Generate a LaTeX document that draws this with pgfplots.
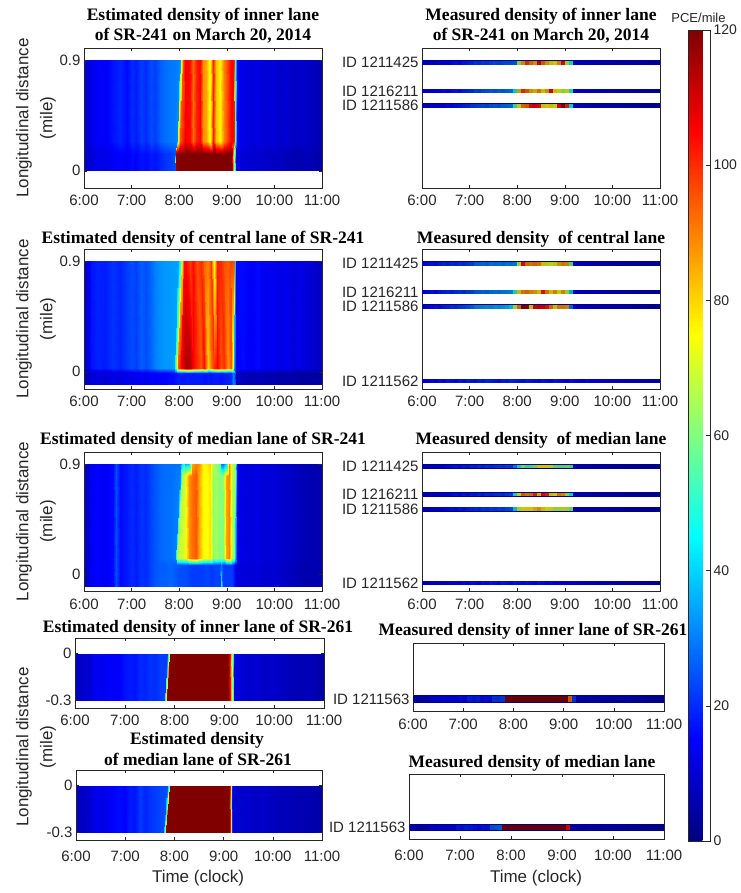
\documentclass[border=0pt]{standalone}
\usepackage{fontspec}
\setmainfont{Liberation Sans}
\newfontfamily\tnr{Liberation Serif}
\usepackage{pgfplots}
\usepackage{pgfplotstable}
\pgfplotsset{compat=1.18}
\definecolor{navyc}{rgb}{0,0,0.55}
\definecolor{axc}{rgb}{0.15,0.15,0.15}
\newcommand\tickf{\fontsize{15}{17}\selectfont}
\newcommand\titf{\tnr\bfseries\fontsize{17.5}{20}\selectfont}
\newcommand\labf{\fontsize{17}{20}\selectfont}
\pgfplotsset{
 base/.style={scale only axis, axis on top, xmin=6, xmax=11,
   xtick={6,7,8,9,10,11}, xticklabels={6:00,7:00,8:00,9:00,10:00,11:00},
   tick align=inside, xtick pos=both, ytick pos=both, major tick length=3pt,
   every tick/.style={axc, line width=0.5pt},
   axis line style={axc, line width=0.6pt},
   tick label style={font=\tickf, text=axc},
   colormap/jet, point meta min=0, point meta max=120},
 top3/.style={base, ymin=-0.14, ymax=1.0, width=238pt, xticklabel style={yshift=-4pt}},
 bot2/.style={base, ymin=-0.35, ymax=0.1},
 est/.style={ytick={0,0.9}, yticklabels={0,0.9}},
 estb/.style={ytick={-0.3,0}, yticklabels={-0.3,0}},
}
\newcommand\strip[6]{%
  \addplot[draw=navyc, line width=#4, forget plot] coordinates {(6,#3) (11,#3)};
  \addplot[scatter, only marks, mark=|, mark size=#5, mark options={line width=#6}, point meta=explicit] table[x=t, y expr=#3, meta=#2] {#1};
}
% ---------------- estimated densities ----------------
\pgfplotstableread[row sep=\\]{
x y c\\
6.00 0 9\\ 6.15 0 10\\ 6.30 0 13\\ 6.45 0 12\\ 6.60 0 14\\ 6.75 0 15\\ 6.90 0 14\\ 7.00 0 16\\ 7.10 0 15\\ 7.20 0 17\\
7.30 0 16\\ 7.40 0 18\\ 7.50 0 17\\ 7.60 0 19\\ 7.70 0 21\\ 7.80 0 22\\ 7.90 0 23\\ 7.92 0 24\\ 7.94 0 118\\ 8.00 0 120\\
8.12 0 120\\ 8.22 0 120\\ 8.29 0 120\\ 8.36 0 120\\ 8.43 0 120\\ 8.50 0 120\\ 8.57 0 120\\ 8.64 0 120\\ 8.71 0 120\\ 8.78 0 120\\
8.85 0 120\\ 8.94 0 120\\ 9.00 0 120\\ 9.06 0 120\\ 9.10 0 118\\ 9.14 0 90\\ 9.17 0 45\\ 9.20 0 12\\ 9.35 0 10\\ 9.50 0 10\\
9.65 0 9\\ 9.80 0 9\\ 9.95 0 8\\ 10.10 0 8\\ 10.25 0 7\\ 10.40 0 6\\ 10.55 0 6\\ 10.70 0 7\\ 10.85 0 5\\ 11.00 0 5\\
6.00 0.14 9\\ 6.15 0.14 10\\ 6.30 0.14 13\\ 6.45 0.14 12\\ 6.60 0.14 14\\ 6.75 0.14 15\\ 6.90 0.14 14\\ 7.00 0.14 16\\ 7.10 0.14 15\\ 7.20 0.14 17\\
7.30 0.14 16\\ 7.40 0.14 18\\ 7.50 0.14 17\\ 7.60 0.14 19\\ 7.70 0.14 21\\ 7.80 0.14 22\\ 7.90 0.14 23\\ 7.92 0.14 24\\ 7.94 0.14 118\\ 8.00 0.14 120\\
8.12 0.14 120\\ 8.22 0.14 120\\ 8.29 0.14 120\\ 8.36 0.14 120\\ 8.43 0.14 120\\ 8.50 0.14 120\\ 8.57 0.14 120\\ 8.64 0.14 120\\ 8.71 0.14 120\\ 8.78 0.14 120\\
8.85 0.14 120\\ 8.94 0.14 120\\ 9.00 0.14 120\\ 9.06 0.14 120\\ 9.10 0.14 118\\ 9.14 0.14 90\\ 9.17 0.14 45\\ 9.20 0.14 12\\ 9.35 0.14 10\\ 9.50 0.14 10\\
9.65 0.14 9\\ 9.80 0.14 9\\ 9.95 0.14 8\\ 10.10 0.14 8\\ 10.25 0.14 7\\ 10.40 0.14 6\\ 10.55 0.14 6\\ 10.70 0.14 7\\ 10.85 0.14 5\\ 11.00 0.14 5\\
6.00 0.24 10\\ 6.15 0.24 12\\ 6.30 0.24 15\\ 6.45 0.24 14\\ 6.60 0.24 17\\ 6.75 0.24 19\\ 6.90 0.24 16\\ 7.00 0.24 20\\ 7.10 0.24 18\\ 7.20 0.24 22\\
7.30 0.24 20\\ 7.40 0.24 24\\ 7.50 0.24 22\\ 7.60 0.24 26\\ 7.70 0.24 28\\ 7.80 0.24 29\\ 7.93 0.24 30\\ 7.96 0.24 32\\ 7.98 0.24 70\\ 8.02 0.24 95\\
8.12 0.24 106\\ 8.22 0.24 104\\ 8.29 0.24 92\\ 8.36 0.24 101\\ 8.43 0.24 105\\ 8.50 0.24 88\\ 8.57 0.24 86\\ 8.64 0.24 72\\ 8.71 0.24 102\\ 8.78 0.24 82\\
8.85 0.24 76\\ 8.94 0.24 90\\ 9.00 0.24 96\\ 9.06 0.24 103\\ 9.10 0.24 106\\ 9.15 0.24 102\\ 9.18 0.24 55\\ 9.21 0.24 14\\ 9.35 0.24 12\\ 9.50 0.24 11\\
9.65 0.24 12\\ 9.80 0.24 10\\ 9.95 0.24 11\\ 10.10 0.24 9\\ 10.25 0.24 10\\ 10.40 0.24 8\\ 10.55 0.24 9\\ 10.70 0.24 8\\ 10.85 0.24 7\\ 11.00 0.24 6\\
6.00 0.9 10\\ 6.15 0.9 12\\ 6.30 0.9 15\\ 6.45 0.9 14\\ 6.60 0.9 17\\ 6.75 0.9 19\\ 6.90 0.9 16\\ 7.00 0.9 20\\ 7.10 0.9 18\\ 7.20 0.9 22\\
7.30 0.9 20\\ 7.40 0.9 24\\ 7.50 0.9 22\\ 7.60 0.9 26\\ 7.70 0.9 28\\ 7.80 0.9 29\\ 7.97 0.9 30\\ 8.01 0.9 32\\ 8.03 0.9 70\\ 8.07 0.9 95\\
8.12 0.9 106\\ 8.22 0.9 104\\ 8.29 0.9 92\\ 8.36 0.9 101\\ 8.43 0.9 105\\ 8.50 0.9 88\\ 8.57 0.9 86\\ 8.64 0.9 72\\ 8.71 0.9 102\\ 8.78 0.9 82\\
8.85 0.9 76\\ 8.94 0.9 90\\ 9.00 0.9 96\\ 9.06 0.9 103\\ 9.10 0.9 106\\ 9.15 0.9 102\\ 9.18 0.9 55\\ 9.21 0.9 14\\ 9.35 0.9 12\\ 9.50 0.9 11\\
9.65 0.9 12\\ 9.80 0.9 10\\ 9.95 0.9 11\\ 10.10 0.9 9\\ 10.25 0.9 10\\ 10.40 0.9 8\\ 10.55 0.9 9\\ 10.70 0.9 8\\ 10.85 0.9 7\\ 11.00 0.9 6\\
}\EA
\pgfplotstableread[row sep=\\]{
x y c\\
6.00 -0.1 7\\ 6.08 -0.1 8\\ 6.15 -0.1 10\\ 6.30 -0.1 11\\ 6.45 -0.1 10\\ 6.60 -0.1 12\\ 6.75 -0.1 11\\ 6.90 -0.1 13\\ 7.00 -0.1 12\\ 7.10 -0.1 13\\
7.20 -0.1 14\\ 7.30 -0.1 13\\ 7.40 -0.1 15\\ 7.50 -0.1 14\\ 7.60 -0.1 15\\ 7.70 -0.1 15\\ 7.80 -0.1 16\\ 7.88 -0.1 16\\ 7.92 -0.1 17\\ 7.96 -0.1 18\\
8.02 -0.1 18\\ 8.15 -0.1 18\\ 8.22 -0.1 18\\ 8.30 -0.1 18\\ 8.38 -0.1 18\\ 8.45 -0.1 18\\ 8.52 -0.1 17\\ 8.60 -0.1 18\\ 8.67 -0.1 17\\ 8.73 -0.1 18\\
8.80 -0.1 18\\ 8.87 -0.1 17\\ 8.95 -0.1 18\\ 9.02 -0.1 19\\ 9.08 -0.1 20\\ 9.12 -0.1 30\\ 9.17 -0.1 25\\ 9.20 -0.1 8\\ 9.35 -0.1 7\\ 9.50 -0.1 6\\
9.65 -0.1 7\\ 9.80 -0.1 6\\ 9.95 -0.1 6\\ 10.10 -0.1 5\\ 10.25 -0.1 5\\ 10.40 -0.1 5\\ 10.55 -0.1 4\\ 10.70 -0.1 4\\ 10.85 -0.1 4\\ 11.00 -0.1 4\\
6.00 -0.01 7\\ 6.08 -0.01 8\\ 6.15 -0.01 10\\ 6.30 -0.01 11\\ 6.45 -0.01 10\\ 6.60 -0.01 12\\ 6.75 -0.01 11\\ 6.90 -0.01 13\\ 7.00 -0.01 12\\ 7.10 -0.01 13\\
7.20 -0.01 14\\ 7.30 -0.01 13\\ 7.40 -0.01 15\\ 7.50 -0.01 14\\ 7.60 -0.01 15\\ 7.70 -0.01 15\\ 7.80 -0.01 16\\ 7.88 -0.01 16\\ 7.92 -0.01 17\\ 7.96 -0.01 18\\
8.02 -0.01 18\\ 8.15 -0.01 18\\ 8.22 -0.01 18\\ 8.30 -0.01 18\\ 8.38 -0.01 18\\ 8.45 -0.01 18\\ 8.52 -0.01 17\\ 8.60 -0.01 18\\ 8.67 -0.01 17\\ 8.73 -0.01 18\\
8.80 -0.01 18\\ 8.87 -0.01 17\\ 8.95 -0.01 18\\ 9.02 -0.01 19\\ 9.08 -0.01 20\\ 9.12 -0.01 30\\ 9.17 -0.01 25\\ 9.20 -0.01 8\\ 9.35 -0.01 7\\ 9.50 -0.01 6\\
9.65 -0.01 7\\ 9.80 -0.01 6\\ 9.95 -0.01 6\\ 10.10 -0.01 5\\ 10.25 -0.01 5\\ 10.40 -0.01 5\\ 10.55 -0.01 4\\ 10.70 -0.01 4\\ 10.85 -0.01 4\\ 11.00 -0.01 4\\
6.00 0.03 10\\ 6.08 0.03 12\\ 6.15 0.03 17\\ 6.30 0.03 19\\ 6.45 0.03 18\\ 6.60 0.03 21\\ 6.75 0.03 19\\ 6.90 0.03 22\\ 7.00 0.03 24\\ 7.10 0.03 22\\
7.20 0.03 26\\ 7.30 0.03 24\\ 7.40 0.03 27\\ 7.50 0.03 30\\ 7.60 0.03 32\\ 7.70 0.03 33\\ 7.80 0.03 33\\ 7.90 0.03 34\\ 7.93 0.03 60\\ 7.97 0.03 95\\
8.04 0.03 106\\ 8.15 0.03 116\\ 8.22 0.03 114\\ 8.30 0.03 105\\ 8.38 0.03 100\\ 8.45 0.03 95\\ 8.52 0.03 104\\ 8.60 0.03 80\\ 8.67 0.03 92\\ 8.73 0.03 100\\
8.80 0.03 105\\ 8.87 0.03 96\\ 8.95 0.03 100\\ 9.02 0.03 88\\ 9.08 0.03 95\\ 9.12 0.03 70\\ 9.15 0.03 35\\ 9.20 0.03 14\\ 9.35 0.03 16\\ 9.50 0.03 14\\
9.65 0.03 16\\ 9.80 0.03 13\\ 9.95 0.03 14\\ 10.10 0.03 12\\ 10.25 0.03 13\\ 10.40 0.03 11\\ 10.55 0.03 12\\ 10.70 0.03 10\\ 10.85 0.03 9\\ 11.00 0.03 8\\
6.00 0.9 10\\ 6.08 0.9 12\\ 6.15 0.9 17\\ 6.30 0.9 19\\ 6.45 0.9 18\\ 6.60 0.9 21\\ 6.75 0.9 19\\ 6.90 0.9 22\\ 7.00 0.9 24\\ 7.10 0.9 22\\
7.20 0.9 26\\ 7.30 0.9 24\\ 7.40 0.9 27\\ 7.50 0.9 30\\ 7.60 0.9 32\\ 7.70 0.9 33\\ 7.80 0.9 33\\ 7.98 0.9 34\\ 8.02 0.9 50\\ 8.05 0.9 80\\
8.10 0.9 104\\ 8.15 0.9 104\\ 8.22 0.9 98\\ 8.30 0.9 104\\ 8.38 0.9 96\\ 8.45 0.9 100\\ 8.52 0.9 94\\ 8.60 0.9 90\\ 8.67 0.9 98\\ 8.73 0.9 72\\
8.80 0.9 102\\ 8.87 0.9 100\\ 8.95 0.9 96\\ 9.02 0.9 94\\ 9.08 0.9 98\\ 9.15 0.9 96\\ 9.18 0.9 40\\ 9.20 0.9 16\\ 9.35 0.9 16\\ 9.50 0.9 14\\
9.65 0.9 16\\ 9.80 0.9 13\\ 9.95 0.9 14\\ 10.10 0.9 12\\ 10.25 0.9 13\\ 10.40 0.9 11\\ 10.55 0.9 12\\ 10.70 0.9 10\\ 10.85 0.9 9\\ 11.00 0.9 8\\
}\EB
\pgfplotstableread[row sep=\\]{
x y c\\
6.00 -0.1 8\\ 6.08 -0.1 10\\ 6.15 -0.1 14\\ 6.30 -0.1 15\\ 6.45 -0.1 14\\ 6.60 -0.1 16\\ 6.68 -0.1 24\\ 6.75 -0.1 16\\ 6.90 -0.1 18\\ 7.00 -0.1 20\\
7.10 -0.1 18\\ 7.20 -0.1 21\\ 7.30 -0.1 20\\ 7.40 -0.1 23\\ 7.50 -0.1 25\\ 7.60 -0.1 26\\ 7.70 -0.1 26\\ 7.80 -0.1 27\\ 7.90 -0.1 26\\ 7.95 -0.1 25\\
8.00 -0.1 24\\ 8.12 -0.1 24\\ 8.20 -0.1 23\\ 8.27 -0.1 22\\ 8.35 -0.1 22\\ 8.42 -0.1 22\\ 8.50 -0.1 22\\ 8.57 -0.1 23\\ 8.64 -0.1 22\\ 8.70 -0.1 22\\
8.78 -0.1 23\\ 8.85 -0.1 22\\ 8.88 -0.1 45\\ 8.92 -0.1 22\\ 8.98 -0.1 22\\ 9.04 -0.1 22\\ 9.10 -0.1 22\\ 9.14 -0.1 20\\ 9.18 -0.1 15\\ 9.21 -0.1 11\\
9.35 -0.1 11\\ 9.50 -0.1 10\\ 9.65 -0.1 11\\ 9.80 -0.1 9\\ 9.95 -0.1 10\\ 10.10 -0.1 9\\ 10.25 -0.1 8\\ 10.40 -0.1 7\\ 10.55 -0.1 6\\ 10.70 -0.1 5\\
10.85 -0.1 6\\ 11.00 -0.1 5\\
6.00 0.07 8\\ 6.08 0.07 10\\ 6.15 0.07 14\\ 6.30 0.07 15\\ 6.45 0.07 14\\ 6.60 0.07 16\\ 6.68 0.07 24\\ 6.75 0.07 16\\ 6.90 0.07 18\\ 7.00 0.07 20\\
7.10 0.07 18\\ 7.20 0.07 21\\ 7.30 0.07 20\\ 7.40 0.07 23\\ 7.50 0.07 25\\ 7.60 0.07 26\\ 7.70 0.07 26\\ 7.80 0.07 27\\ 7.90 0.07 26\\ 7.95 0.07 25\\
8.00 0.07 24\\ 8.12 0.07 24\\ 8.20 0.07 23\\ 8.27 0.07 22\\ 8.35 0.07 22\\ 8.42 0.07 22\\ 8.50 0.07 22\\ 8.57 0.07 23\\ 8.64 0.07 22\\ 8.70 0.07 22\\
8.78 0.07 23\\ 8.85 0.07 22\\ 8.88 0.07 30\\ 8.92 0.07 22\\ 8.98 0.07 22\\ 9.04 0.07 22\\ 9.10 0.07 22\\ 9.14 0.07 20\\ 9.18 0.07 15\\ 9.21 0.07 11\\
9.35 0.07 11\\ 9.50 0.07 10\\ 9.65 0.07 11\\ 9.80 0.07 9\\ 9.95 0.07 10\\ 10.10 0.07 9\\ 10.25 0.07 8\\ 10.40 0.07 7\\ 10.55 0.07 6\\ 10.70 0.07 5\\
10.85 0.07 6\\ 11.00 0.07 5\\
6.00 0.13 8\\ 6.08 0.13 10\\ 6.15 0.13 14\\ 6.30 0.13 15\\ 6.45 0.13 14\\ 6.60 0.13 16\\ 6.68 0.13 24\\ 6.75 0.13 16\\ 6.90 0.13 18\\ 7.00 0.13 20\\
7.10 0.13 18\\ 7.20 0.13 21\\ 7.30 0.13 20\\ 7.40 0.13 23\\ 7.50 0.13 25\\ 7.60 0.13 27\\ 7.70 0.13 28\\ 7.80 0.13 28\\ 7.92 0.13 30\\ 7.95 0.13 65\\
8.00 0.13 68\\ 8.12 0.13 72\\ 8.20 0.13 88\\ 8.27 0.13 92\\ 8.35 0.13 95\\ 8.42 0.13 85\\ 8.50 0.13 76\\ 8.57 0.13 74\\ 8.64 0.13 78\\ 8.70 0.13 62\\
8.78 0.13 64\\ 8.85 0.13 60\\ 8.88 0.13 62\\ 8.92 0.13 60\\ 8.98 0.13 85\\ 9.04 0.13 90\\ 9.10 0.13 66\\ 9.15 0.13 62\\ 9.18 0.13 40\\ 9.21 0.13 12\\
9.35 0.13 12\\ 9.50 0.13 11\\ 9.65 0.13 12\\ 9.80 0.13 10\\ 9.95 0.13 11\\ 10.10 0.13 9\\ 10.25 0.13 9\\ 10.40 0.13 8\\ 10.55 0.13 7\\ 10.70 0.13 6\\
10.85 0.13 6\\ 11.00 0.13 5\\
6.00 0.8 8\\ 6.08 0.8 10\\ 6.15 0.8 14\\ 6.30 0.8 15\\ 6.45 0.8 14\\ 6.60 0.8 16\\ 6.68 0.8 24\\ 6.75 0.8 16\\ 6.90 0.8 18\\ 7.00 0.8 20\\
7.10 0.8 18\\ 7.20 0.8 21\\ 7.30 0.8 20\\ 7.40 0.8 23\\ 7.50 0.8 25\\ 7.60 0.8 27\\ 7.70 0.8 28\\ 7.80 0.8 28\\ 8.02 0.8 30\\ 8.05 0.8 65\\
8.10 0.8 68\\ 8.12 0.8 72\\ 8.20 0.8 88\\ 8.27 0.8 92\\ 8.35 0.8 95\\ 8.42 0.8 85\\ 8.50 0.8 76\\ 8.57 0.8 74\\ 8.64 0.8 78\\ 8.70 0.8 62\\
8.78 0.8 64\\ 8.85 0.8 60\\ 8.88 0.8 62\\ 8.92 0.8 60\\ 8.98 0.8 85\\ 9.04 0.8 90\\ 9.10 0.8 66\\ 9.17 0.8 62\\ 9.19 0.8 40\\ 9.21 0.8 12\\
9.35 0.8 12\\ 9.50 0.8 11\\ 9.65 0.8 12\\ 9.80 0.8 10\\ 9.95 0.8 11\\ 10.10 0.8 9\\ 10.25 0.8 9\\ 10.40 0.8 8\\ 10.55 0.8 7\\ 10.70 0.8 6\\
10.85 0.8 6\\ 11.00 0.8 5\\
6.00 0.9 8\\ 6.08 0.9 10\\ 6.15 0.9 14\\ 6.30 0.9 15\\ 6.45 0.9 14\\ 6.60 0.9 16\\ 6.68 0.9 24\\ 6.75 0.9 16\\ 6.90 0.9 18\\ 7.00 0.9 20\\
7.10 0.9 18\\ 7.20 0.9 21\\ 7.30 0.9 20\\ 7.40 0.9 23\\ 7.50 0.9 25\\ 7.60 0.9 27\\ 7.70 0.9 28\\ 7.80 0.9 28\\ 8.02 0.9 28\\ 8.05 0.9 42\\
8.10 0.9 50\\ 8.12 0.9 35\\ 8.20 0.9 40\\ 8.27 0.9 85\\ 8.35 0.9 90\\ 8.42 0.9 88\\ 8.50 0.9 76\\ 8.57 0.9 76\\ 8.64 0.9 80\\ 8.70 0.9 66\\
8.78 0.9 62\\ 8.85 0.9 55\\ 8.88 0.9 30\\ 8.92 0.9 28\\ 8.98 0.9 40\\ 9.04 0.9 88\\ 9.10 0.9 68\\ 9.17 0.9 62\\ 9.19 0.9 40\\ 9.21 0.9 12\\
9.35 0.9 12\\ 9.50 0.9 11\\ 9.65 0.9 12\\ 9.80 0.9 10\\ 9.95 0.9 11\\ 10.10 0.9 9\\ 10.25 0.9 9\\ 10.40 0.9 8\\ 10.55 0.9 7\\ 10.70 0.9 6\\
10.85 0.9 6\\ 11.00 0.9 5\\
}\EC
\pgfplotstableread[row sep=\\]{
x y c\\
6.00 -0.3 8\\ 6.15 -0.3 9\\ 6.30 -0.3 10\\ 6.40 -0.3 14\\ 6.55 -0.3 13\\ 6.70 -0.3 15\\ 6.85 -0.3 14\\ 7.00 -0.3 17\\ 7.10 -0.3 18\\ 7.20 -0.3 17\\
7.30 -0.3 20\\ 7.40 -0.3 19\\ 7.50 -0.3 21\\ 7.60 -0.3 20\\ 7.70 -0.3 22\\ 7.78 -0.3 22\\ 7.82 -0.3 70\\ 7.84 -0.3 120\\ 9.08 -0.3 120\\ 9.11 -0.3 105\\
9.14 -0.3 85\\ 9.17 -0.3 50\\ 9.20 -0.3 12\\ 9.35 -0.3 10\\ 9.50 -0.3 9\\ 9.65 -0.3 10\\ 9.80 -0.3 8\\ 9.95 -0.3 9\\ 10.10 -0.3 8\\ 10.30 -0.3 7\\
10.50 -0.3 6\\ 10.70 -0.3 7\\ 10.85 -0.3 5\\ 11.00 -0.3 5\\
6.00 0 8\\ 6.15 0 9\\ 6.30 0 10\\ 6.40 0 14\\ 6.55 0 13\\ 6.70 0 15\\ 6.85 0 14\\ 7.00 0 17\\ 7.10 0 18\\ 7.20 0 17\\
7.30 0 20\\ 7.40 0 19\\ 7.50 0 21\\ 7.60 0 20\\ 7.70 0 22\\ 7.85 0 22\\ 7.89 0 70\\ 7.91 0 120\\ 9.08 0 120\\ 9.11 0 105\\
9.14 0 85\\ 9.17 0 50\\ 9.20 0 12\\ 9.35 0 10\\ 9.50 0 9\\ 9.65 0 10\\ 9.80 0 8\\ 9.95 0 9\\ 10.10 0 8\\ 10.30 0 7\\
10.50 0 6\\ 10.70 0 7\\ 10.85 0 5\\ 11.00 0 5\\
}\ED
\pgfplotstableread[row sep=\\]{
x y c\\
6.00 -0.3 8\\ 6.15 -0.3 8\\ 6.30 -0.3 10\\ 6.40 -0.3 13\\ 6.55 -0.3 12\\ 6.70 -0.3 14\\ 6.85 -0.3 16\\ 7.00 -0.3 15\\ 7.10 -0.3 18\\ 7.20 -0.3 17\\
7.30 -0.3 22\\ 7.40 -0.3 19\\ 7.50 -0.3 21\\ 7.60 -0.3 22\\ 7.70 -0.3 23\\ 7.77 -0.3 24\\ 7.81 -0.3 60\\ 7.83 -0.3 120\\ 9.11 -0.3 120\\ 9.13 -0.3 105\\
9.15 -0.3 75\\ 9.17 -0.3 20\\ 9.20 -0.3 10\\ 9.35 -0.3 9\\ 9.50 -0.3 9\\ 9.65 -0.3 8\\ 9.80 -0.3 9\\ 9.95 -0.3 8\\ 10.10 -0.3 7\\ 10.30 -0.3 7\\
10.50 -0.3 6\\ 10.70 -0.3 6\\ 10.85 -0.3 5\\ 11.00 -0.3 5\\
6.00 0 8\\ 6.15 0 8\\ 6.30 0 10\\ 6.40 0 13\\ 6.55 0 12\\ 6.70 0 14\\ 6.85 0 16\\ 7.00 0 15\\ 7.10 0 18\\ 7.20 0 17\\
7.30 0 22\\ 7.40 0 19\\ 7.50 0 21\\ 7.60 0 22\\ 7.70 0 23\\ 7.85 0 24\\ 7.89 0 60\\ 7.91 0 120\\ 9.11 0 120\\ 9.13 0 105\\
9.15 0 75\\ 9.17 0 20\\ 9.20 0 10\\ 9.35 0 9\\ 9.50 0 9\\ 9.65 0 8\\ 9.80 0 9\\ 9.95 0 8\\ 10.10 0 7\\ 10.30 0 7\\
10.50 0 6\\ 10.70 0 6\\ 10.85 0 5\\ 11.00 0 5\\
}\EE
% ---------------- measured densities (5-min bins) ----------------
\pgfplotstableread[row sep=\\]{
t a b c\\
6.042 12 12 11\\ 6.125 12 13 12\\ 6.208 11 12 12\\ 6.292 13 14 13\\ 6.375 14 15 14\\ 6.458 15 16 15\\
6.542 15 15 16\\ 6.625 16 17 16\\ 6.708 17 18 17\\ 6.792 16 17 18\\ 6.875 18 19 19\\ 6.958 19 20 20\\
7.042 20 21 22\\ 7.125 22 24 23\\ 7.208 21 23 24\\ 7.292 23 25 25\\ 7.375 22 26 24\\ 7.458 24 27 26\\
7.542 25 26 27\\ 7.625 24 28 26\\ 7.708 25 27 28\\ 7.792 26 29 29\\ 7.875 26 30 30\\ 7.958 27 45 52\\
8.042 65 82 76\\ 8.125 85 98 90\\ 8.208 98 92 92\\ 8.292 90 84 104\\ 8.375 84 80 106\\ 8.458 108 88 103\\
8.542 92 78 78\\ 8.625 84 84 76\\ 8.708 78 105 78\\ 8.792 76 78 74\\ 8.875 86 74 104\\ 8.958 104 66 118\\
9.042 68 72 100\\ 9.125 50 50 45\\ 9.208 12 13 12\\ 9.292 11 12 12\\ 9.375 12 12 11\\ 9.458 10 11 11\\
9.542 11 12 10\\ 9.625 10 10 11\\ 9.708 11 11 10\\ 9.792 10 10 10\\ 9.875 9 10 9\\ 9.958 10 9 10\\
10.042 9 10 9\\ 10.125 9 9 8\\ 10.208 8 8 9\\ 10.292 9 9 8\\ 10.375 8 8 8\\ 10.458 8 7 7\\
10.542 7 8 8\\ 10.625 8 7 7\\ 10.708 7 7 6\\ 10.792 7 6 7\\ 10.875 6 7 6\\ 10.958 7 6 6\\
}\MA
\pgfplotstableread[row sep=\\]{
t a b c d\\
6.042 16 15 14 14\\ 6.125 17 16 16 15\\ 6.208 18 17 17 16\\ 6.292 17 16 18 15\\ 6.375 19 18 17 17\\ 6.458 20 19 19 16\\
6.542 19 20 20 18\\ 6.625 21 19 22 17\\ 6.708 20 21 21 16\\ 6.792 22 22 23 18\\ 6.875 21 21 24 17\\ 6.958 23 23 26 19\\
7.042 24 24 28 18\\ 7.125 28 27 32 17\\ 7.208 29 28 33 19\\ 7.292 30 29 34 18\\ 7.375 29 28 35 20\\ 7.458 31 30 34 19\\
7.542 30 31 36 18\\ 7.625 31 30 35 17\\ 7.708 30 31 36 19\\ 7.792 32 32 38 18\\ 7.875 31 33 42 20\\ 7.958 32 50 70 19\\
8.042 70 78 90 18\\ 8.125 104 88 118 17\\ 8.208 90 90 116 19\\ 8.292 88 86 78 18\\ 8.375 90 84 106 17\\ 8.458 88 78 108 16\\
8.542 78 102 106 18\\ 8.625 70 88 102 17\\ 8.708 74 78 90 16\\ 8.792 70 86 78 18\\ 8.875 84 76 88 17\\ 8.958 88 86 88 16\\
9.042 86 66 86 15\\ 9.125 58 40 30 17\\ 9.208 12 12 13 16\\ 9.292 11 12 12 15\\ 9.375 11 11 12 14\\ 9.458 10 11 11 16\\
9.542 11 10 11 15\\ 9.625 10 10 10 14\\ 9.708 10 11 10 13\\ 9.792 9 10 9 14\\ 9.875 10 9 10 12\\ 9.958 9 9 9 13\\
10.042 9 10 9 12\\ 10.125 8 9 8 11\\ 10.208 9 8 8 12\\ 10.292 8 8 9 11\\ 10.375 8 9 8 10\\ 10.458 7 8 7 11\\
10.542 8 7 7 10\\ 10.625 7 7 8 9\\ 10.708 7 8 7 10\\ 10.792 6 7 6 9\\ 10.875 7 6 6 8\\ 10.958 6 6 6 9\\
}\MB
\pgfplotstableread[row sep=\\]{
t a b c d\\
6.042 11 10 10 10\\ 6.125 12 11 11 11\\ 6.208 12 12 12 12\\ 6.292 13 12 13 11\\ 6.375 12 13 14 13\\ 6.458 14 14 15 12\\
6.542 16 15 16 14\\ 6.625 17 16 17 13\\ 6.708 18 17 16 15\\ 6.792 17 16 18 14\\ 6.875 19 18 17 16\\ 6.958 18 17 19 15\\
7.042 20 19 20 17\\ 7.125 19 18 21 16\\ 7.208 21 20 20 15\\ 7.292 20 19 22 17\\ 7.375 22 21 21 16\\ 7.458 21 20 23 18\\
7.542 22 21 22 17\\ 7.625 23 22 24 16\\ 7.708 22 21 23 18\\ 7.792 24 23 25 17\\ 7.875 23 24 26 16\\ 7.958 32 45 42 18\\
8.042 45 74 70 17\\ 8.125 66 92 74 16\\ 8.208 52 88 76 17\\ 8.292 56 90 76 16\\ 8.375 64 100 80 15\\ 8.458 74 80 84 17\\
8.542 76 104 78 16\\ 8.625 76 100 75 15\\ 8.708 72 78 74 16\\ 8.792 60 76 68 14\\ 8.875 58 88 68 15\\ 8.958 58 86 70 14\\
9.042 62 66 68 13\\ 9.125 55 45 62 14\\ 9.208 10 11 10 12\\ 9.292 10 10 10 13\\ 9.375 9 10 9 12\\ 9.458 9 9 10 11\\
9.542 10 9 9 12\\ 9.625 9 10 9 11\\ 9.708 8 8 8 10\\ 9.792 8 9 8 11\\ 9.875 9 8 9 10\\ 9.958 8 8 8 9\\
10.042 7 7 7 10\\ 10.125 7 8 8 9\\ 10.208 8 7 7 9\\ 10.292 7 7 7 8\\ 10.375 6 6 6 9\\ 10.458 6 7 6 8\\
10.542 7 6 7 8\\ 10.625 6 6 6 7\\ 10.708 6 5 5 8\\ 10.792 5 6 6 7\\ 10.875 6 5 5 7\\ 10.958 5 5 5 6\\
}\MC
\pgfplotstableread[row sep=\\]{
t a e\\
6.042 8 9\\ 6.125 8 9\\ 6.208 9 8\\ 6.292 9 9\\ 6.375 13 10\\ 6.458 14 13\\
6.542 13 12\\ 6.625 15 14\\ 6.708 14 13\\ 6.792 15 14\\ 6.875 14 13\\ 6.958 16 18\\
7.042 15 17\\ 7.125 19 19\\ 7.208 18 18\\ 7.292 19 17\\ 7.375 16 16\\ 7.458 17 18\\
7.542 16 17\\ 7.625 22 26\\ 7.708 21 27\\ 7.792 23 28\\ 7.875 120 120\\ 7.958 120 120\\
8.042 120 120\\ 8.125 120 120\\ 8.208 120 120\\ 8.292 120 120\\ 8.375 120 120\\ 8.458 120 120\\
8.542 120 120\\ 8.625 120 120\\ 8.708 120 120\\ 8.792 120 120\\ 8.875 120 120\\ 8.958 120 120\\
9.042 120 120\\ 9.125 92 104\\ 9.208 22 9\\ 9.292 9 9\\ 9.375 9 8\\ 9.458 8 8\\
9.542 9 9\\ 9.625 8 8\\ 9.708 8 8\\ 9.792 9 7\\ 9.875 8 8\\ 9.958 7 7\\
10.042 8 7\\ 10.125 7 8\\ 10.208 7 7\\ 10.292 8 6\\ 10.375 7 7\\ 10.458 6 6\\
10.542 7 6\\ 10.625 6 5\\ 10.708 6 6\\ 10.792 5 5\\ 10.875 6 5\\ 10.958 5 5\\
}\MD
\begin{document}
\begin{tikzpicture}
\path[use as bounding box] (0pt,0pt) rectangle (740pt,893pt);
% ===== Row 1 =====
\begin{axis}[top3, est, at={(84pt,705pt)}, anchor=south west, height=140pt]
\addplot[surf, shader=interp, mesh/cols=50, point meta=explicit] table[x=x, y=y, meta=c] {\EA};
\end{axis}
\begin{axis}[top3, at={(422pt,705pt)}, anchor=south west, height=140pt,
  ytick={0.53,0.65,0.88}, yticklabels={ID 1211586,ID 1216211,ID 1211425},
  colorbar, colorbar style={at={(parent axis.north east)}, anchor=north west, xshift=19.5pt, yshift=18pt,
   width=22pt, height=811pt, scale only axis,
   ytick={0,20,40,60,80,100,120}, yticklabel pos=right, ytick pos=right, tick align=inside, major tick length=4pt,
   tick label style={font=\fontsize{14}{16}\selectfont, text=axc}, every tick/.style={axc},
   axis line style={axc, line width=0.6pt},
   /pgf/number format/assume math mode=true}]
\strip{\MA}{c}{0.53}{4.8pt}{1.8pt}{4.05pt}
\strip{\MA}{b}{0.65}{4.8pt}{1.8pt}{4.05pt}
\strip{\MA}{a}{0.88}{4.8pt}{1.8pt}{4.05pt}
\end{axis}
% ===== Row 2 =====
\begin{axis}[top3, est, at={(84pt,504pt)}, anchor=south west, height=140pt]
\addplot[surf, shader=interp, mesh/cols=50, point meta=explicit] table[x=x, y=y, meta=c] {\EB};
\end{axis}
\begin{axis}[top3, at={(422pt,504pt)}, anchor=south west, height=140pt,
  ytick={-0.075,0.53,0.65,0.88}, yticklabels={ID 1211562,ID 1211586,ID 1216211,ID 1211425}]
\strip{\MB}{d}{-0.075}{4.8pt}{1.8pt}{4.05pt}
\strip{\MB}{c}{0.53}{4.8pt}{1.8pt}{4.05pt}
\strip{\MB}{b}{0.65}{4.8pt}{1.8pt}{4.05pt}
\strip{\MB}{a}{0.88}{4.8pt}{1.8pt}{4.05pt}
\end{axis}
% ===== Row 3 =====
\begin{axis}[top3, est, at={(84pt,302pt)}, anchor=south west, height=139pt]
\addplot[surf, shader=interp, mesh/cols=52, point meta=explicit] table[x=x, y=y, meta=c] {\EC};
\end{axis}
\begin{axis}[top3, at={(422pt,302pt)}, anchor=south west, height=139pt,
  ytick={-0.075,0.53,0.65,0.88}, yticklabels={ID 1211562,ID 1211586,ID 1216211,ID 1211425}]
\strip{\MC}{d}{-0.075}{4.8pt}{1.8pt}{4.05pt}
\strip{\MC}{c}{0.53}{4.8pt}{1.8pt}{4.05pt}
\strip{\MC}{b}{0.65}{4.8pt}{1.8pt}{4.05pt}
\strip{\MC}{a}{0.88}{4.8pt}{1.8pt}{4.05pt}
\end{axis}
% ===== Row 4 =====
\begin{axis}[bot2, estb, at={(75pt,185pt)}, anchor=south west, width=249pt, height=70pt, xticklabel style={yshift=-3.5pt}]
\addplot[surf, shader=interp, mesh/cols=34, point meta=explicit] table[x=x, y=y, meta=c] {\ED};
\end{axis}
\begin{axis}[bot2, at={(413pt,182pt)}, anchor=south west, width=251pt, height=68pt, xticklabel style={yshift=-4pt},
  ytick={-0.27}, yticklabels={ID 1211563}]
\strip{\MD}{a}{-0.27}{7.2pt}{2.8pt}{4.25pt}
\end{axis}
% ===== Row 5 =====
\begin{axis}[bot2, estb, at={(76pt,53pt)}, anchor=south west, width=246pt, height=70pt, xticklabel style={yshift=-7pt}]
\addplot[surf, shader=interp, mesh/cols=34, point meta=explicit] table[x=x, y=y, meta=c] {\EE};
\end{axis}
\begin{axis}[bot2, at={(409pt,54pt)}, anchor=south west, width=255pt, height=65pt, xticklabel style={yshift=-7pt},
  ytick={-0.27}, yticklabels={ID 1211563}]
\strip{\MD}{e}{-0.27}{7.4pt}{2.9pt}{4.3pt}
\end{axis}
% ===== titles =====
\node[font=\titf, anchor=base] at (203pt,872.5pt) {Estimated density of inner lane};
\node[font=\titf, anchor=base] at (203pt,852.3pt) {of SR-241 on March 20, 2014};
\node[font=\titf, anchor=base] at (541pt,872.5pt) {Measured density of inner lane};
\node[font=\titf, anchor=base] at (541pt,852.3pt) {of SR-241 on March 20, 2014};
\node[font=\titf, anchor=base] at (203pt,649.7pt) {Estimated density of central lane of SR-241};
\node[font=\titf, anchor=base] at (541pt,649.7pt) {Measured density~ of central lane};
\node[font=\titf, anchor=base] at (203pt,448pt) {Estimated density of median lane of SR-241};
\node[font=\titf, anchor=base] at (541pt,448pt) {Measured density~ of median lane};
\node[font=\titf, anchor=base] at (198pt,260.3pt) {Estimated density of inner lane of SR-261};
\node[font=\titf, anchor=base] at (533pt,257.3pt) {Measured density of inner lane of SR-261};
\node[font=\titf, anchor=base] at (197pt,148pt) {Estimated density};
\node[font=\titf, anchor=base] at (198pt,127.3pt) {of median lane of SR-261};
\node[font=\titf, anchor=base] at (532pt,125.3pt) {Measured density of median lane};
% ===== axis labels =====
\node[font=\labf, rotate=90, text=axc] at (24pt,775pt) {Longitudinal distance};
\node[font=\labf, rotate=90, text=axc] at (48pt,775pt) {(mile)};
\node[font=\labf, rotate=90, text=axc] at (24pt,574pt) {Longitudinal distance};
\node[font=\labf, rotate=90, text=axc] at (48pt,574pt) {(mile)};
\node[font=\labf, rotate=90, text=axc] at (24pt,371.5pt) {Longitudinal distance};
\node[font=\labf, rotate=90, text=axc] at (48pt,371.5pt) {(mile)};
\node[font=\labf, rotate=90, text=axc] at (24pt,146pt) {Longitudinal distance};
\node[font=\labf, rotate=90, text=axc] at (48pt,146pt) {(mile)};
\node[font=\labf, text=axc] at (198pt,15pt) {Time (clock)};
\node[font=\labf, text=axc] at (536pt,15pt) {Time (clock)};
\node[font=\fontsize{13}{15}\selectfont, anchor=base, text=axc] at (698.5pt,870pt) {PCE/mile};
\end{tikzpicture}
\end{document}
